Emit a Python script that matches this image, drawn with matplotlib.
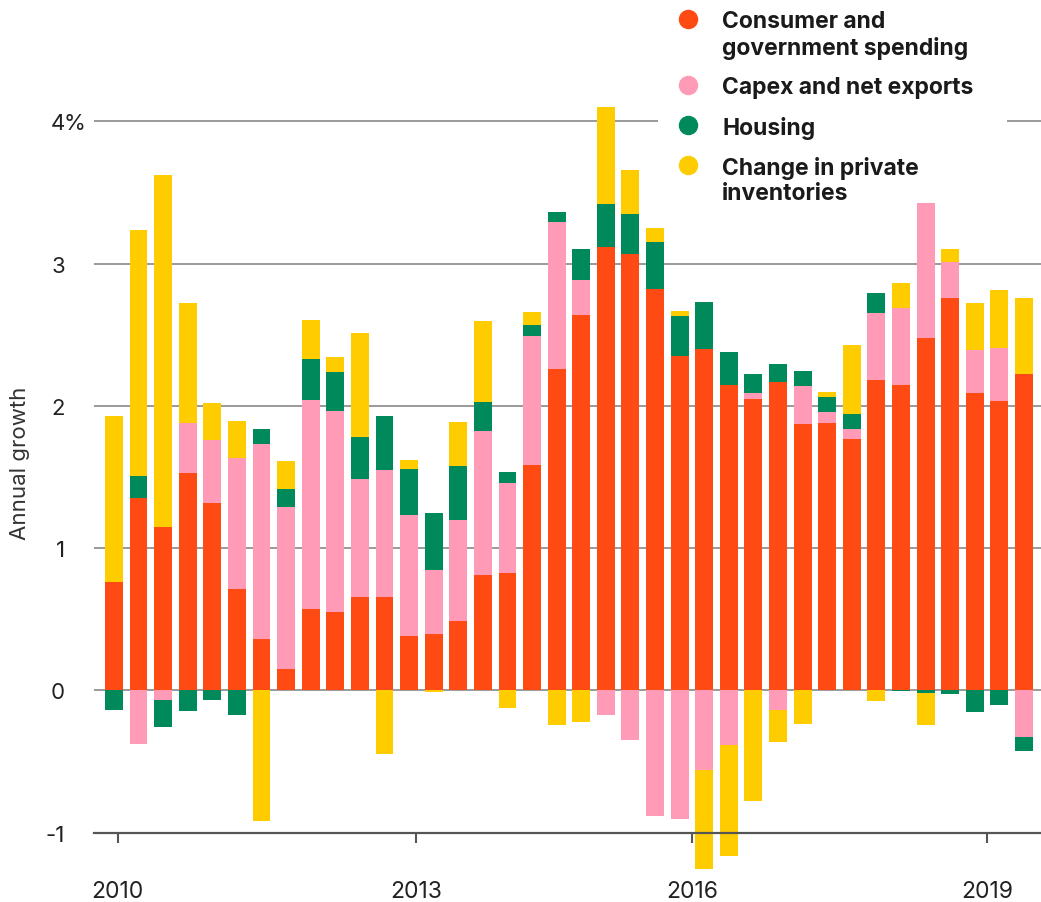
import matplotlib
matplotlib.use("Agg")
import matplotlib.pyplot as plt
import matplotlib.transforms as mtransforms
from matplotlib.patches import Rectangle
from matplotlib.lines import Line2D
import numpy as np

plt.rcParams['font.family'] = ['Inter', 'DejaVu Sans']

# quarterly contributions to annual growth, 2010 Q1 - 2019 Q2
quarters = [f"{y}Q{q}" for y in range(2010, 2020) for q in range(1, 5)][:38]

consumer = [0.76, 1.35, 1.15, 1.53, 1.32, 0.71, 0.36, 0.15, 0.57, 0.555,
            0.655, 0.66, 0.38, 0.40, 0.49, 0.815, 0.825, 1.585, 2.26, 2.64,
            3.115, 3.065, 2.82, 2.35, 2.40, 2.145, 2.05, 2.17, 1.87, 1.88,
            1.765, 2.18, 2.15, 2.48, 2.76, 2.09, 2.035, 2.225]
capex = [0.0, -0.375, -0.065, 0.35, 0.44, 0.925, 1.37, 1.14, 1.47, 1.41,
         0.83, 0.89, 0.85, 0.45, 0.71, 1.01, 0.63, 0.905, 1.03, 0.245,
         -0.17, -0.35, -0.885, -0.90, -0.56, -0.38, 0.04, -0.135, 0.27, 0.08,
         0.075, 0.47, 0.535, 0.945, 0.25, 0.30, 0.37, -0.325]
housing = [-0.14, 0.155, -0.19, -0.145, -0.065, -0.17, 0.105, 0.125, 0.29, 0.27,
           0.30, 0.38, 0.33, 0.40, 0.38, 0.205, 0.08, 0.08, 0.07, 0.22,
           0.305, 0.285, 0.33, 0.28, 0.33, 0.235, 0.135, 0.125, 0.105, 0.105,
           0.105, 0.145, -0.005, -0.016, -0.028, -0.148, -0.105, -0.10]
inventories = [1.17, 1.73, 2.47, 0.845, 0.26, 0.26, -0.92, 0.20, 0.275, 0.11,
               0.73, -0.45, 0.06, -0.01, 0.31, 0.57, -0.125, 0.09, -0.24, -0.22,
               0.68, 0.305, 0.10, 0.04, -0.695, -0.785, -0.775, -0.23, -0.235, 0.035,
               0.48, -0.075, 0.18, -0.23, 0.09, 0.335, 0.41, 0.535]

series_names = ["Consumer and\ngovernment spending", "Capex and net exports",
                "Housing", "Change in private\ninventories"]
series_colors = ["#FF4A14", "#FF9BB6", "#008A5C", "#FFCC00"]

year_ticks = [0.16, 12.3, 23.5, 35.5]
year_labels = ["2010", "2013", "2016", "2019"]
y_ticks = [-1, 0, 1, 2, 3, 4]
y_labels = ["-1", "0", "1", "2", "3", "4"]

W, H = 1041, 903
fig = plt.figure(figsize=(W / 100, H / 100), dpi=100)
ax = fig.add_axes([94 / W, (H - 875) / H, (W - 94) / W, 875 / H])

x = np.arange(len(quarters))
pos_base = np.zeros(len(x))
neg_base = np.zeros(len(x))
for vals, color in zip([consumer, capex, housing, inventories], series_colors):
    vals = np.array(vals)
    bottoms = np.where(vals >= 0, pos_base, neg_base)
    ax.bar(x, vals, bottom=bottoms, width=0.73, color=color, linewidth=0, zorder=2)
    pos_base += np.where(vals >= 0, vals, 0)
    neg_base += np.where(vals < 0, vals, 0)

ax.set_xlim(-0.81, 37.69)
ax.set_ylim(-1.29, 4.86)

ax.set_yticks(y_ticks, y_labels)
ax.set_xticks(year_ticks, year_labels)
ax.grid(axis='y', color='#9a9a9a', linewidth=1.4, zorder=0)
ax.set_axisbelow(True)
for s in ['top', 'right', 'left']:
    ax.spines[s].set_visible(False)
ax.spines['bottom'].set_position(('data', -1))
ax.spines['bottom'].set_color('#555555')
ax.spines['bottom'].set_linewidth(1.6)
ax.tick_params(axis='y', length=0, pad=21, labelsize=16, labelcolor='#222222')
ax.tick_params(axis='x', length=7, width=1.5, color='#555555', pad=27,
               labelsize=16.5, labelcolor='#222222')

# percent sign next to the top label
trans = mtransforms.blended_transform_factory(fig.transFigure, ax.transData)
ax.text(63 / W, 4, "%", transform=trans, fontsize=16, color='#222222',
        ha='left', va='center_baseline')

fig.text(20 / W, 1 - 463 / H, "Annual growth", rotation=90, fontsize=16,
         color='#333333', ha='center', va='center')

# legend block
fig.patches.append(Rectangle((658 / W, 1 - 202 / H), (1007 - 658) / W, 202 / H,
                             transform=fig.transFigure, facecolor='white',
                             edgecolor='none', zorder=1))
legend_y = [20, 86, 126, 166]
for name, color, ly in zip(series_names, series_colors, legend_y):
    fig.lines.append(Line2D([688 / W], [1 - ly / H], marker='o', markersize=13,
                            color=color, linestyle='none',
                            transform=fig.transFigure, zorder=2))
    fig.text(722 / W, 1 - (ly - 9) / H, name, fontsize=16.5, fontweight='bold',
             color='#1a1a1a', ha='left', va='top', linespacing=1.2)

fig.savefig("out.png", dpi=100)
